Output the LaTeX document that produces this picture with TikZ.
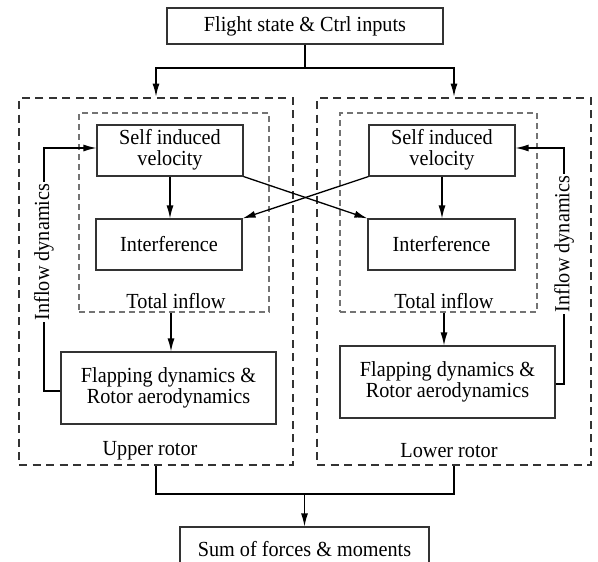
\documentclass[tikz,border=0pt]{standalone}
\usepackage{fontspec}
\setmainfont{Liberation Serif}[FakeStretch=0.94]
\usetikzlibrary{arrows.meta}
\tikzset{
 blk/.style={draw=black!80, line width=1.1pt, inner sep=0pt, align=center, font=\fontsize{21.5}{20.5}\selectfont},
 lbl/.style={inner sep=0pt, font=\fontsize{21.5}{20.5}\selectfont},
 outerbox/.style={draw=black!80, line width=2.8pt, dash pattern=on 8pt off 5.5pt, inner sep=0pt},
 innerbox/.style={draw=black!55, line width=1.1pt, dash pattern=on 6pt off 4pt, inner sep=0pt},
 arr/.style={line width=1.3pt, -{Latex[length=13pt,width=7pt]}},
 ln/.style={line width=1.3pt}
}
\begin{document}
\begin{tikzpicture}[x=1pt,y=-1pt]
\useasboundingbox (0,0) rectangle (598,562);
\clip (0,0) rectangle (598,562);
\fill[white] (0,0) rectangle (598,562);

% outer and inner dashed groups
\node[outerbox, minimum width=274pt, minimum height=367pt] (upper) at (156,281.5) {};
\node[outerbox, minimum width=274pt, minimum height=367pt] (lower) at (454,281.5) {};
\node[innerbox, minimum width=190pt, minimum height=199pt] (inL) at (174,212.5) {};
\node[innerbox, minimum width=197pt, minimum height=199pt] (inR) at (438.5,212.5) {};

% blocks
\node[blk, minimum width=276pt, minimum height=36pt] (top) at (305,26) {Flight state \& Ctrl inputs};
\node[blk, minimum width=146pt, minimum height=51pt] (sivL) at (170,150.5) {\raisebox{-3pt}{\begin{tabular}{@{}c@{}}Self induced\\[-1pt]velocity\end{tabular}}};
\node[blk, minimum width=146pt, minimum height=51pt] (intL) at (169,244.5) {Interference};
\node[blk, minimum width=215pt, minimum height=72pt] (flapL) at (168.5,388) {Flapping dynamics \&\\Rotor aerodynamics};
\node[blk, minimum width=146pt, minimum height=51pt] (sivR) at (442,150.5) {\raisebox{-3pt}{\begin{tabular}{@{}c@{}}Self induced\\[-1pt]velocity\end{tabular}}};
\node[blk, minimum width=147pt, minimum height=51pt] (intR) at (441.5,244.5) {Interference};
\node[blk, minimum width=215pt, minimum height=72pt] (flapR) at (447.5,382) {Flapping dynamics \&\\Rotor aerodynamics};
\node[blk, minimum width=249pt, minimum height=44pt] (sum) at (304.5,549) {Sum of forces \& moments};

% labels
\node[lbl] (totL) at (176,301) {Total inflow};
\node[lbl] (totR) at (444,301) {Total inflow};
\node[lbl] (upL) at (150,451) {Upper rotor};
\node[lbl] (loL) at (449,451) {Lower rotor};

% top distribution
\coordinate (split) at (305,68);
\draw[ln] (top.south) -- (split);
\draw[arr] (split) -| (upper.north);
\draw[arr] (split) -| (lower.north);

% inside rotors
\draw[arr] (sivL.south) -- (intL.north -| sivL.south);
\draw[arr] (sivR.south) -- (intR.north -| sivR.south);
\draw[arr] (sivL.south east) -- (intR.north west);
\draw[arr] (sivR.south west) -- (intL.north east);
\draw[arr] (inL.south -| 171,0) -- (flapL.north -| 171,0);
\draw[arr] (inR.south -| 444,0) -- (flapR.north -| 444,0);

% inflow dynamics feedback
\coordinate (fbL) at (44,391);
\coordinate (fbR) at (564,384);
\draw[arr] ([yshift=-3pt]flapL.west) -- (fbL) -- (44,148) -- ([yshift=2.5pt]sivL.west);
\draw[arr] ([yshift=-2pt]flapR.east) -- (fbR) -- (564,148) -- ([yshift=2.5pt]sivR.east);
\node[lbl, fill=white, inner sep=2pt, rotate=90] (idL) at (44,252) {Inflow dynamics};
\node[lbl, fill=white, inner sep=2pt, rotate=90] (idR) at (564,244) {Inflow dynamics};

% bottom merge
\coordinate (merge) at (304.5,494);
\draw[ln] (upper.south) |- (merge);
\draw[ln] (lower.south) |- (merge);
\draw[arr] (merge) -- (sum.north);
\end{tikzpicture}
\end{document}
